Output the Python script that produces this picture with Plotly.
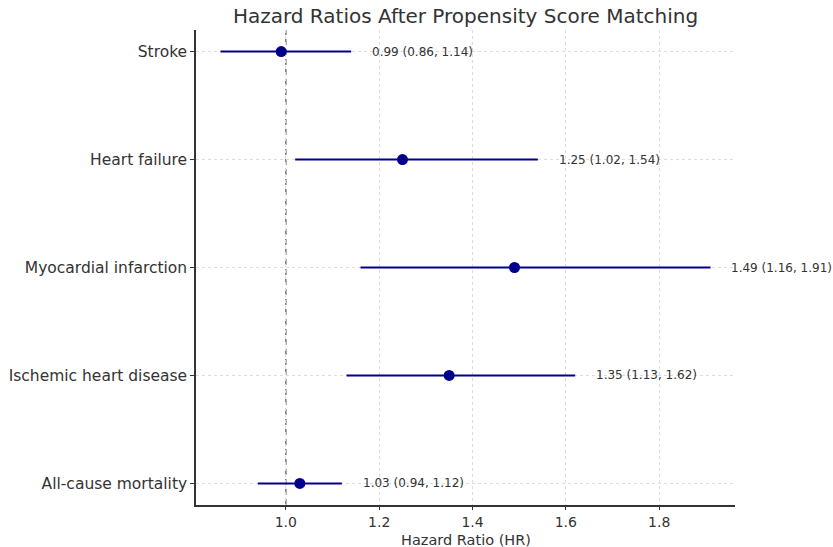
import plotly.graph_objects as go

outcomes = ["All-cause mortality", "Ischemic heart disease", "Myocardial infarction", "Heart failure", "Stroke"]
hr = [1.03, 1.35, 1.49, 1.25, 0.99]
lower = [0.94, 1.13, 1.16, 1.02, 0.86]
upper = [1.12, 1.62, 1.91, 1.54, 1.14]
x_ticks = [1.0, 1.2, 1.4, 1.6, 1.8]

ypos = list(range(len(outcomes)))
navy = "#00008B"
txt = "#333333"
font = "DejaVu Sans"

W, H = 833, 547
ML, MR, MT, MB = 196, 98, 30, 42
plot_h = H - MT - MB

fig = go.Figure()
fig.add_trace(go.Scatter(
    x=hr, y=ypos, mode="markers",
    marker=dict(color=navy, size=11),
    error_x=dict(type="data", symmetric=False,
                 array=[u - h for u, h in zip(upper, hr)],
                 arrayminus=[h - l for h, l in zip(hr, lower)],
                 color=navy, thickness=2, width=0),
    showlegend=False, hoverinfo="x+y",
))

fig.add_shape(type="line", x0=1, x1=1, y0=0, y1=1, yref="paper",
              line=dict(color="#7f7f7f", width=1.6, dash="6px,4px"), layer="below")

for y, h, l, u in zip(ypos, hr, lower, upper):
    fig.add_annotation(x=u + 0.04, y=y, text=f"{h:.2f} ({l:.2f}, {u:.2f})",
                       xanchor="left", yanchor="middle", showarrow=False,
                       font=dict(family=font, size=12, color=txt))

# x-axis title placed below the tick labels
fig.add_annotation(x=0.5, xref="x domain", y=-35 / plot_h, yref="paper",
                   text="Hazard Ratio (HR)", showarrow=False,
                   xanchor="center", yanchor="middle",
                   font=dict(family=font, size=14.5, color=txt))

fig.update_layout(
    width=W, height=H,
    margin=dict(l=ML, r=MR, t=MT, b=MB),
    plot_bgcolor="white", paper_bgcolor="white",
    font=dict(family=font, color=txt),
    title=dict(text="Hazard Ratios After Propensity Score Matching",
               x=(ML + (W - MR)) / 2 / W, xanchor="center",
               y=1 - 16 / H, yanchor="middle",
               font=dict(family=font, size=20, color=txt)),
    xaxis=dict(range=[0.8075, 1.9625], tickvals=x_ticks,
               ticktext=[f"{v:.1f}" for v in x_ticks],
               showgrid=True, gridcolor="#dcdcdc", griddash="dot", gridwidth=1,
               showline=True, linecolor="#333333", linewidth=1.5,
               ticks="outside", ticklen=3, tickcolor="#333333",
               tickfont=dict(size=14, color=txt), zeroline=False, automargin=False),
    yaxis=dict(range=[-0.2, len(outcomes) - 1 + 0.2], tickvals=ypos, ticktext=outcomes,
               showgrid=True, gridcolor="#dcdcdc", griddash="dot", gridwidth=1,
               showline=True, linecolor="#333333", linewidth=1.5,
               ticks="outside", ticklen=4, tickcolor="#333333", automargin=False,
               tickfont=dict(size=15.5, color=txt), zeroline=False),
)

fig.write_html("out.html")
